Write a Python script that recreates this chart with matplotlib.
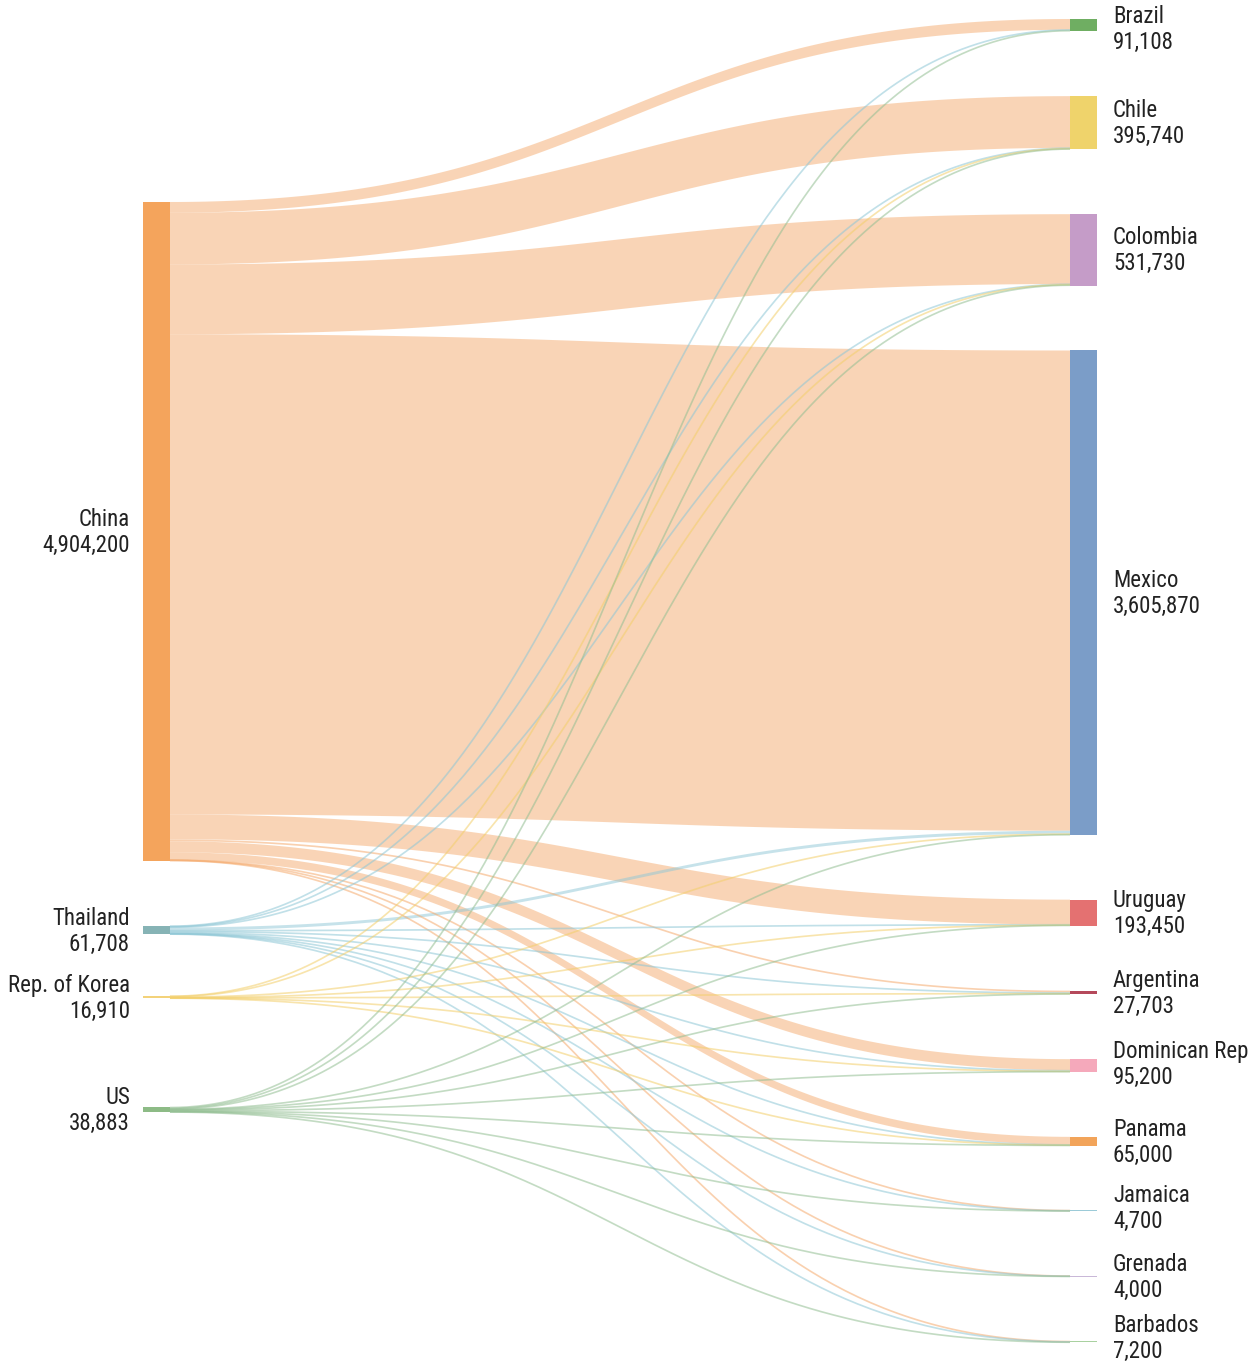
import numpy as np
import matplotlib.pyplot as plt
from matplotlib import font_manager

# exporters (left column) and importers (right column)
sources = ['China', 'Thailand', 'Rep. of Korea', 'US']
source_totals = [4904200, 61708, 16910, 38883]
targets = ['Brazil', 'Chile', 'Colombia', 'Mexico', 'Uruguay', 'Argentina',
           'Dominican Rep', 'Panama', 'Jamaica', 'Grenada', 'Barbados']
target_totals = [91108, 395740, 531730, 3605870, 193450, 27703,
                 95200, 65000, 4700, 4000, 7200]

# flows from each exporter, listed in the same order as targets
china_flows = [80000, 385000, 520000, 3575700, 185000, 14000, 82000, 58000, 1500, 1000, 2000]
thailand_flows = [3000, 4000, 4000, 22000, 4000, 8000, 8000, 3500, 1500, 1000, 2708]
korea_flows = [0, 3000, 2000, 7210, 1000, 1500, 1200, 1000, 0, 0, 0]
us_flows = [8108, 3740, 5730, 960, 3450, 4203, 4000, 2500, 1700, 2000, 2492]

flows = np.array([china_flows, thailand_flows, korea_flows, us_flows], dtype=float)

source_colors = ['#f4a45c', '#86b3b5', '#f3d27a', '#8dbb86']
link_colors = ['#f5ab6e', '#8ec7d6', '#f3cf6a', '#93bf93']
target_colors = ['#6fae62', '#efd36b', '#c59cc8', '#7b9dc8', '#e47171', '#b5495b',
                 '#f5a9bb', '#f2a45a', '#9ccbd8', '#c9b8d8', '#a9d1a0']

W, H = 1256, 1364
scale = 134.3e-6          # px per unit
node_w = 27
x_left, x_right = 143, 1070
left_tops = [202, 926, 996, 1107]
right_top0, right_gap = 19, 64.9

# right node tops stacked with even gaps
right_tops = []
y = right_top0
for v in target_totals:
    right_tops.append(y)
    y += v * scale + right_gap

fig = plt.figure(figsize=(W / 100, H / 100), dpi=100)
ax = fig.add_axes([0, 0, 1, 1])
ax.set_xlim(0, W)
ax.set_ylim(H, 0)
ax.axis('off')

# labels look best in a narrow face; take the first one installed
prefs = ['Liberation Sans Narrow', 'Roboto Condensed', 'Open Sans Condensed',
         'Noto Sans Condensed', 'DejaVu Sans Condensed']
narrow = None
for p in prefs:
    for f in font_manager.fontManager.ttflist:
        full = f.name + ' ' + f.fname.split('/')[-1]
        if (p.split()[0] in f.name and ('Narrow' in full or 'Condensed' in full)
                and f.style == 'normal' and f.weight in (400, 'normal', 'regular')
                and 'Bold' not in f.fname and 'Italic' not in f.fname):
            narrow = f.fname
            break
    if narrow:
        break
if narrow:
    label_font = font_manager.FontProperties(fname=narrow)
else:
    label_font = font_manager.FontProperties(family=['Roboto', 'DejaVu Sans'])

# shrink the size until the widest label fits the space beside the nodes
size = 16.5
renderer = fig.canvas.get_renderer()
probe = ax.text(0, 0, 'Dominican Rep', fontproperties=label_font, fontsize=size)
wpx = probe.get_window_extent(renderer).width
probe.remove()
if wpx > 139:
    size = size * 139 / wpx
label_font.set_size(size)


def curve(x0, x1, y0, y1, n=150):
    t = np.linspace(0, 1, n)
    xm = (x0 + x1) / 2
    x = (1 - t) ** 3 * x0 + 3 * (1 - t) ** 2 * t * xm + 3 * (1 - t) * t ** 2 * xm + t ** 3 * x1
    s = 3 * t ** 2 - 2 * t ** 3
    return x, y0 + (y1 - y0) * s


# offsets inside each node for stacking the ribbons
src_off = [0.0] * len(sources)
tgt_off = [0.0] * len(targets)
src_pos = {}
for i in range(len(sources)):
    for j in range(len(targets)):
        if flows[i, j] > 0:
            src_pos[(i, j)] = left_tops[i] + src_off[i]
            src_off[i] += flows[i, j] * scale
tgt_pos = {}
for j in range(len(targets)):
    for i in range(len(sources)):
        if flows[i, j] > 0:
            tgt_pos[(i, j)] = right_tops[j] + tgt_off[j]
            tgt_off[j] += flows[i, j] * scale

x0, x1 = x_left + node_w, x_right
for i in range(len(sources)):
    for j in range(len(targets)):
        v = flows[i, j]
        if v <= 0:
            continue
        w = v * scale
        ys, yt = src_pos[(i, j)], tgt_pos[(i, j)]
        if w >= 2.0:
            x, top = curve(x0, x1, ys, yt)
            _, bot = curve(x0, x1, ys + w, yt + w)
            ax.fill(np.concatenate([x, x[::-1]]), np.concatenate([top, bot[::-1]]),
                    color=link_colors[i], alpha=0.5, lw=0, zorder=1)
        else:
            x, mid = curve(x0, x1, ys + w / 2, yt + w / 2)
            ax.plot(x, mid, color=link_colors[i], alpha=0.55,
                    lw=1.7 * 72 / 100, solid_capstyle='butt', zorder=2)

# nodes
txt = '#222222'
for i, name in enumerate(sources):
    h = source_totals[i] * scale
    ax.add_patch(plt.Rectangle((x_left, left_tops[i]), node_w, h,
                               color=source_colors[i], lw=0, zorder=3))
    cy = left_tops[i] + h / 2
    ax.text(130, cy - 12, name, ha='right', va='center',
            fontproperties=label_font, color=txt)
    ax.text(130, cy + 14, f'{source_totals[i]:,}', ha='right', va='center',
            fontproperties=label_font, color=txt)

# small vertical nudges keep the top and bottom labels inside the frame
nudge = {'Brazil': 3, 'Dominican Rep': -2, 'Jamaica': -3, 'Barbados': -4}
for j, name in enumerate(targets):
    h = max(target_totals[j] * scale, 0.8)
    ax.add_patch(plt.Rectangle((x_right, right_tops[j]), node_w, h,
                               color=target_colors[j], lw=0, zorder=3))
    cy = right_tops[j] + h / 2 + nudge.get(name, 0)
    ax.text(1113, cy - 12, name, ha='left', va='center',
            fontproperties=label_font, color=txt)
    ax.text(1113, cy + 14, f'{target_totals[j]:,}', ha='left', va='center',
            fontproperties=label_font, color=txt)

fig.savefig('out.png', dpi=100, facecolor='white')
